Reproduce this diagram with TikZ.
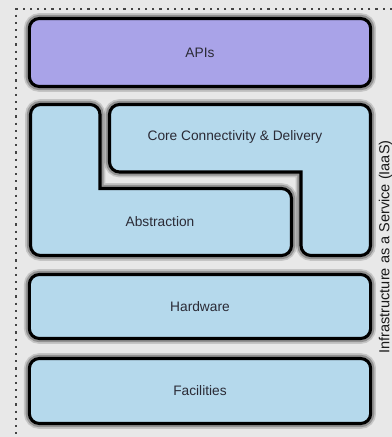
\documentclass[tikz,border=0pt]{standalone}
\usepackage{fontspec}
\setmainfont{Liberation Sans}
\definecolor{bgpaper}{HTML}{E8E8E8}
\definecolor{apifill}{HTML}{A9A3E8}
\definecolor{layerfill}{HTML}{B5D9EC}
\definecolor{labelink}{HTML}{2A2A35}
\definecolor{dotink}{HTML}{444444}
\tikzset{
  layer/.style={draw=black, line width=2.3pt, rounded corners=7.5pt,
    line cap=rect,
    preaction={draw=black, draw opacity=0.15, line width=8pt},
    preaction={draw=black, draw opacity=0.25, line width=5.5pt}},
  layerbox/.style={layer, rectangle, inner sep=0pt},
  lbl/.style={text=labelink, font=\fontsize{10.3}{12}\selectfont, inner sep=0pt},
  frame/.style={draw=dotink, line width=1.8pt, dash pattern=on 1.6pt off 3.8pt}
}
\begin{document}
\begin{tikzpicture}[x=0.75pt, y=-0.75pt]
  % page and paper
  \fill[bgpaper] (0,0) rectangle (392,437);
  \useasboundingbox (0,0) rectangle (392,437);

  % dotted enclosure (top and left edges)
  \coordinate (fTL) at (16,9);
  \coordinate (fTR) at (392,9);
  \coordinate (fBL) at (16,437);
  \draw[frame] (fTR) -- (fTL) -- (fBL);

  % top layer
  \node[layerbox, fill=apifill, minimum width=256pt, minimum height=51pt] (apis) at (200,52.5) {};
  \node[lbl] (apislbl) at (apis.center) {APIs};

  % interlocking middle layers
  \draw[layer, fill=layerfill]
    (100,188.5) -- (291.5,188.5) -- (291.5,255.5) -- (30.5,255.5)
    -- (30.5,104.5) -- (100,104.5) -- (100,188.5);
  \draw[layer, fill=layerfill]
    (301,172) -- (109.5,172) -- (109.5,104.5) -- (370.5,104.5)
    -- (370.5,255.5) -- (301,255.5) -- (301,172);
  \node[lbl] (core) at (235,137) {Core Connectivity \& Delivery};
  \node[lbl] (abstr) at (160,222) {Abstraction};

  % lower layers
  \node[layerbox, fill=layerfill, minimum width=256pt, minimum height=48pt] (hw) at (200,306.5) {};
  \node[lbl] (hwlbl) at (hw.center) {Hardware};
  \node[layerbox, fill=layerfill, minimum width=256pt, minimum height=48.75pt] (fac) at (200,391) {};
  \node[lbl] (faclbl) at (fac.center) {Facilities};

  % side caption
  \node[text=black!90, font=\fontsize{10.9}{13}\selectfont, rotate=90, inner sep=0pt] (iaas) at (385.5,247) {Infrastructure as a Service (IaaS)};
\end{tikzpicture}
\end{document}
